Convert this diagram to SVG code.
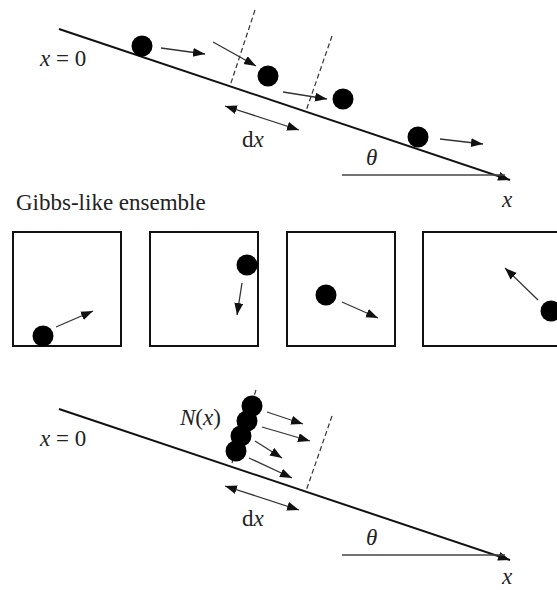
<svg xmlns="http://www.w3.org/2000/svg" width="557" height="590" viewBox="0 0 557 590">
<defs>
<marker id="ah" markerUnits="userSpaceOnUse" markerWidth="13" markerHeight="10" refX="12" refY="4.5" orient="auto-start-reverse">
<path d="M0,0 L12,4.5 L0,9 z" fill="#111"/>
</marker>
<style>
.slope{stroke:#111;stroke-width:2;fill:none}
.hz{stroke:#444;stroke-width:1.3;fill:none}
.arr{stroke:#333;stroke-width:1.3;fill:none;marker-end:url(#ah)}
.dbl{stroke:#333;stroke-width:1.3;fill:none;marker-start:url(#ah);marker-end:url(#ah)}
.dash{stroke:#333;stroke-width:1.2;stroke-dasharray:5,3;fill:none}
.ball{fill:#000}
.box{fill:none;stroke:#111;stroke-width:2}
.lbl{font-size:23px;fill:#222}
.it{font-style:italic}
</style>
</defs>

<g id="connectors">
<line class="slope" x1="59" y1="29" x2="510" y2="180" marker-end="url(#ah)"/>
<line class="hz" x1="342" y1="175" x2="505" y2="175"/>
<line class="dash" x1="255" y1="10" x2="230" y2="86"/>
<line class="dash" x1="332" y1="36" x2="306" y2="111"/>
<line class="dbl" x1="225" y1="106" x2="299" y2="130"/>
<line class="arr" x1="161" y1="48" x2="205" y2="54"/>
<line class="arr" x1="213" y1="42" x2="256" y2="66"/>
<line class="arr" x1="283" y1="92" x2="327" y2="99"/>
<line class="arr" x1="440" y1="139" x2="483" y2="144"/>
<line class="arr" x1="56" y1="327" x2="93" y2="311"/>
<line class="arr" x1="242" y1="283" x2="237" y2="315"/>
<line class="arr" x1="342" y1="302" x2="378" y2="318"/>
<line class="arr" x1="538" y1="300" x2="505" y2="268"/>
<line class="slope" x1="59" y1="409" x2="510" y2="560" marker-end="url(#ah)"/>
<line class="hz" x1="342" y1="555" x2="505" y2="555"/>
<line class="dash" x1="256" y1="390" x2="231" y2="466"/>
<line class="dash" x1="332" y1="416" x2="306" y2="491"/>
<line class="dbl" x1="225" y1="486" x2="299" y2="510"/>
<line class="arr" x1="267" y1="412" x2="303" y2="424"/>
<line class="arr" x1="262" y1="427" x2="310" y2="441"/>
<line class="arr" x1="255" y1="441" x2="282" y2="458"/>
<line class="arr" x1="249" y1="458" x2="292" y2="478"/>
</g>

<g id="top-panel">
<circle class="ball" cx="142" cy="46" r="10.5"/>
<circle class="ball" cx="268" cy="76" r="10.5"/>
<circle class="ball" cx="343" cy="99" r="10.5"/>
<circle class="ball" cx="418" cy="137" r="10.5"/>
<text class="lbl" font-family="Liberation Serif, serif" x="40" y="66"><tspan class="it">x</tspan> = 0</text>
<text class="lbl" font-family="Liberation Serif, serif" x="242" y="147">d<tspan class="it">x</tspan></text>
<text class="lbl it" font-family="Liberation Serif, serif" x="366" y="165">θ</text>
<text class="lbl it" font-family="Liberation Serif, serif" x="502" y="207">x</text>
</g>

<g id="ensemble">
<text class="lbl" font-family="Liberation Serif, serif" x="16" y="210">Gibbs-like ensemble</text>
<g id="box1">
<rect class="box" x="13" y="232" width="108" height="114"/>
<circle class="ball" cx="43" cy="336" r="10.5"/>
</g>
<g id="box2">
<rect class="box" x="150" y="232" width="108" height="114"/>
<circle class="ball" cx="247" cy="265" r="10.5"/>
</g>
<g id="box3">
<rect class="box" x="287" y="232" width="108" height="114"/>
<circle class="ball" cx="326" cy="295" r="10.5"/>
</g>
<g id="box4">
<rect class="box" x="423" y="232" width="150" height="114"/>
<circle class="ball" cx="551" cy="311" r="10.5"/>
</g>
</g>

<g id="bottom-panel">
<circle class="ball" cx="236" cy="451" r="10.5"/>
<circle class="ball" cx="241" cy="436" r="10.5"/>
<circle class="ball" cx="247" cy="421" r="10.5"/>
<circle class="ball" cx="252" cy="406" r="10.5"/>
<text class="lbl" font-family="Liberation Serif, serif" x="180" y="425"><tspan class="it">N</tspan>(<tspan class="it">x</tspan>)</text>
<text class="lbl" font-family="Liberation Serif, serif" x="40" y="446"><tspan class="it">x</tspan> = 0</text>
<text class="lbl" font-family="Liberation Serif, serif" x="242" y="526">d<tspan class="it">x</tspan></text>
<text class="lbl it" font-family="Liberation Serif, serif" x="366" y="545">θ</text>
<text class="lbl it" font-family="Liberation Serif, serif" x="502" y="584">x</text>
</g>
</svg>
